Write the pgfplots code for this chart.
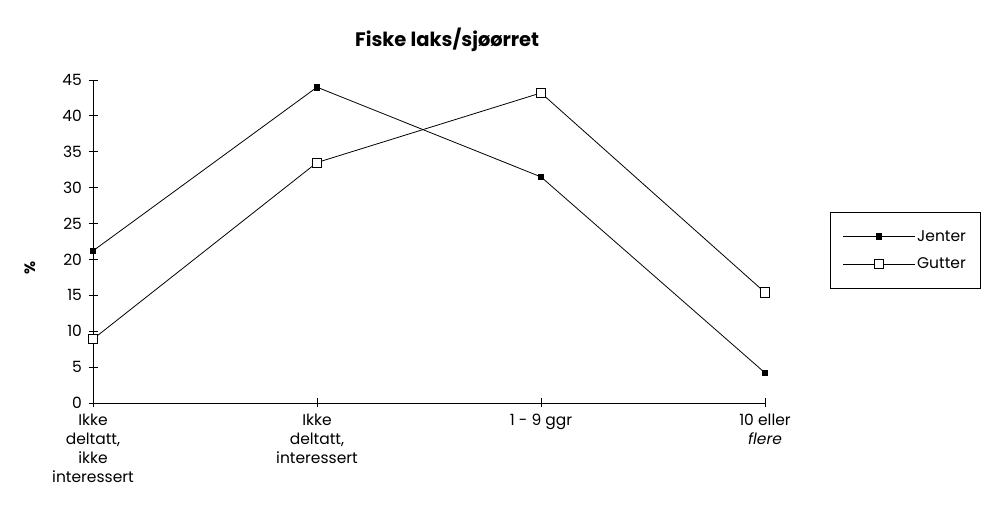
\documentclass[border=0pt]{standalone}
\usepackage{pgfplots}
\pgfplotsset{compat=1.18}
\usepackage{fontspec}
\setmainfont{Poppins}
\begin{document}
\begin{tikzpicture}[x=1pt,y=1pt]
\useasboundingbox (0,0) rectangle (981,508);
\begin{axis}[
  at={(93pt,105pt)}, anchor=south west,
  scale only axis, width=672pt, height=323pt,
  xmin=0, xmax=3, ymin=0, ymax=45,
  axis lines=left, axis line style={-, line width=0.9pt},
  clip=false,
  xtick={0,1,2,3},
  xticklabels={{Ikke\\deltatt,\\ikke\\interessert},{Ikke\\deltatt,\\interessert},{1 - 9 ggr},{10 eller\\\textit{flere}}},
  xticklabel style={align=center, font=\fontsize{15.5}{19}\selectfont, yshift=-3pt},
  ytick={0,5,...,45},
  yticklabel style={font=\fontsize{15.5}{17}\selectfont, xshift=-3pt},
  /pgf/number format/assume math mode=true,
  tick align=center, major tick length=9pt,
  tick style={black, line width=0.8pt},
  ylabel={\%},
  ylabel style={font=\fontsize{15}{17}\selectfont\bfseries, at={(axis description cs:-0.094,0.418)}, anchor=center},
  title={\bfseries Fiske laks/sjøørret},
  title style={font=\fontsize{19.5}{21}\selectfont, at={(0.527,1)}, anchor=base, yshift=27pt},
  legend style={at={(1.0967,0.591)}, anchor=north west, draw=black, line width=0.8pt,
    font=\fontsize{15.5}{17}\selectfont, inner xsep=12pt, inner ysep=16pt, row sep=11pt,
    cells={anchor=west}},
  legend cell align=left,
  legend image code/.code={\draw[#1, mark repeat=2, mark phase=2] plot coordinates {(0pt,0pt) (36pt,0pt) (72pt,0pt)};},
]
\addplot[black, line width=0.8pt, mark=square*, mark size=2.8pt, mark options={solid, fill=black}]
  coordinates {(0,21.2) (1,44.0) (2,31.5) (3,4.2)};
\addlegendentry{Jenter}
\addplot[black, line width=0.8pt, mark=square*, mark size=4.6pt, mark options={solid, fill=white}]
  coordinates {(0,8.9) (1,33.5) (2,43.2) (3,15.4)};
\addlegendentry{Gutter}
\end{axis}
\end{tikzpicture}
\end{document}
